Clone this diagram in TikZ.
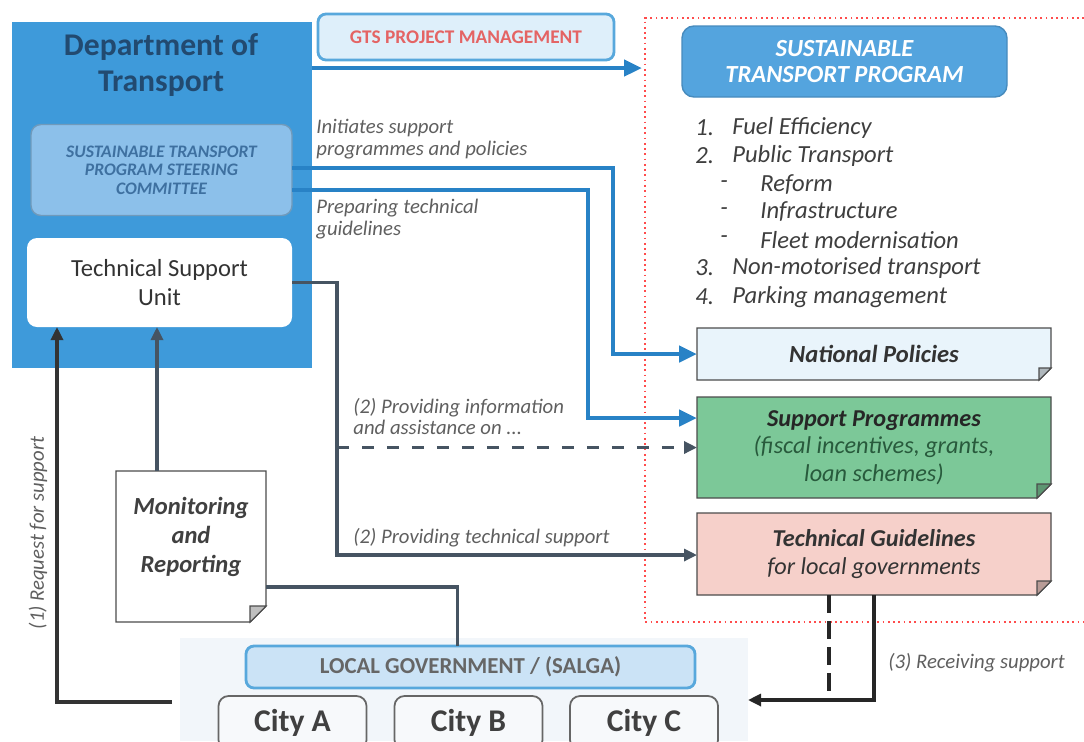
\documentclass[tikz,border=0pt]{standalone}
\usepackage{fontspec}
\setmainfont{Carlito}
\usetikzlibrary{positioning,calc,arrows.meta,backgrounds}

\definecolor{deptblue}{RGB}{62,154,218}
\definecolor{titleblue}{RGB}{34,74,112}
\definecolor{steerblue}{RGB}{140,192,234}
\definecolor{steertext}{RGB}{62,112,160}
\definecolor{progblue}{RGB}{84,164,222}
\definecolor{paleblue}{RGB}{222,239,250}
\definecolor{edgeblue}{RGB}{88,168,220}
\definecolor{arrowblue}{RGB}{40,130,198}
\definecolor{linegray}{RGB}{70,84,98}
\definecolor{textgray}{RGB}{95,95,95}
\definecolor{listgray}{RGB}{62,62,62}
\definecolor{gtsred}{RGB}{228,100,100}
\definecolor{npfill}{RGB}{233,244,251}
\definecolor{spfill}{RGB}{124,200,152}
\definecolor{sptext}{RGB}{40,90,60}
\definecolor{tgfill}{RGB}{246,208,202}
\definecolor{cityfill}{RGB}{247,249,251}
\definecolor{groundfill}{RGB}{242,246,250}

\tikzset{
  boxsize/.style 2 args={minimum width=#1*0.02cm, minimum height=#2*0.02cm,
    inner sep=0pt, outer sep=0pt},
  bluearr/.style={draw=arrowblue, line width=2.8pt,
    -{Triangle[length=0.36cm,width=0.32cm]}},
  grayarr/.style={draw=linegray, line width=1.8pt,
    -{Triangle[length=0.26cm,width=0.24cm]}},
  grayline/.style={draw=linegray, line width=1.8pt},
  dasharr/.style={draw=linegray, line width=2pt, dash pattern=on 0.24cm off 0.26cm,
    -{Triangle[length=0.26cm,width=0.24cm]}},
  lbl/.style={font=\fontsize{11.8}{12.2}\selectfont\itshape, text=textgray,
    inner sep=0pt, align=left},
  listtxt/.style={font=\fontsize{14}{16}\selectfont\itshape, text=listgray,
    anchor=west, inner sep=0pt},
  citybox/.style={boxsize={148}{54}, draw=black!60, line width=1pt, fill=cityfill,
    rounded corners=0.2cm, font=\fontsize{18}{20}\selectfont\bfseries,
    text=black!75},
}

% paper sheet with a folded corner, drawn behind the node
\newcommand{\docpaper}[3]{%
  \filldraw[fill=#2, draw=black!70, line width=0.8pt] (#1.south west) -- (#1.north west)
    -- (#1.north east) -- ($(#1.south east)+(0,-#3)$) -- ($(#1.south east)+(-#3,0)$) -- cycle;
  \filldraw[fill=#2!75!black, draw=black!70, line width=0.6pt] ($(#1.south east)+(0,-#3)$)
    -- ($(#1.south east)+(-#3,-#3)$) -- ($(#1.south east)+(-#3,0)$) -- cycle;
}

\begin{document}
\begin{tikzpicture}[x=0.02cm, y=-0.02cm]
  \useasboundingbox (0,0) rectangle (1084,741);
%%% Department of Transport
  \node[boxsize={300}{346}, fill=deptblue] (dot) at (162,195) {};
  \node[font=\fontsize{18}{20.5}\selectfont\bfseries, text=titleblue, align=center]
    (dottitle) at (161,65) {Department of\\Transport};
  \node[boxsize={261}{91}, fill=steerblue, draw=steerblue!80!black, line width=0.8pt,
    rounded corners=0.2cm, align=center, text=steertext,
    font=\fontsize{10}{10.5}\selectfont\bfseries\itshape] (steer) at (161.5,170)
    {SUSTAINABLE TRANSPORT\\PROGRAM STEERING\\COMMITTEE};
  \node[boxsize={265}{89}, fill=white, rounded corners=0.2cm, align=center,
    font=\fontsize{14}{17}\selectfont, text=black!80] (tsu) at (159.5,282.5)
    {Technical Support\\Unit};
%%% project management
  \node[boxsize={296}{46}, fill=paleblue, draw=edgeblue, line width=1.6pt,
    rounded corners=0.16cm, text=gtsred, font=\fontsize{11}{12}\selectfont\bfseries]
    (gts) at (466,37) {GTS PROJECT MANAGEMENT};
%%% programme frame
  \draw[red!70, dotted, line width=1pt] (1100,18) -- (645,18) -- (645,622) -- (1100,622);
  \node[boxsize={325}{71}, fill=progblue, draw=progblue!85!black, line width=0.8pt,
    rounded corners=0.24cm, text=white, align=center,
    font=\fontsize{14}{14.5}\selectfont\bfseries\itshape] (stp) at (844.5,61.5)
    {SUSTAINABLE\\TRANSPORT PROGRAM};
  \node[listtxt] (n1) at (695,128) {1.};
  \node[listtxt] (fuel) at (732,128) {Fuel Efficiency};
  \node[listtxt] (n2) at (695,156) {2.};
  \node[listtxt] (public) at (732,156) {Public Transport};
  \node[listtxt] (d1) at (720,185) {-};
  \node[listtxt] (reform) at (760,185) {Reform};
  \node[listtxt] (d2) at (720,212) {-};
  \node[listtxt] (infra) at (760,212) {Infrastructure};
  \node[listtxt] (d3) at (720,240) {-};
  \node[listtxt] (fleet) at (760,240) {Fleet modernisation};
  \node[listtxt] (n3) at (695,268) {3.};
  \node[listtxt] (nmt) at (732,268) {Non-motorised transport};
  \node[listtxt] (n4) at (695,297) {4.};
  \node[listtxt] (parking) at (732,297) {Parking management};
%%% outputs
  \node[boxsize={354}{52}, font=\fontsize{14}{16}\selectfont\bfseries\itshape,
    text=black!80] (np) at (874,354) {National Policies};
  \node[boxsize={354}{101}, align=center, font=\fontsize{13.8}{15.5}\selectfont\itshape,
    text=sptext] (sp) at (874,447.5)
    {\textbf{\color{black!85}Support Programmes}\\(fiscal incentives, grants,\\loan schemes)};
  \node[boxsize={354}{82}, align=center, font=\fontsize{13.8}{16}\selectfont\itshape,
    text=black!80] (tg) at (874,554)
    {\textbf{Technical Guidelines}\\for local governments};
%%% monitoring
  \node[boxsize={150}{151}] (mr) at (191,546.5) {};
  \node[font=\fontsize{14}{16.5}\selectfont\bfseries\itshape, text=black!75,
    align=center] (mrtext) at (191,537) {Monitoring\\and\\Reporting};
%%% local government
  \node[boxsize={449}{42}, fill=steerblue!45, draw=edgeblue, line width=1.6pt,
    rounded corners=0.16cm, text=black!60, font=\fontsize{13}{14}\selectfont\bfseries]
    (lg) at (470.5,667) {LOCAL GOVERNMENT / (SALGA)};
  \node[citybox] (citya) at (292.5,723) {City A};
  \node[citybox] (cityb) at (468.5,723) {City B};
  \node[citybox] (cityc) at (644,723) {City C};
  \begin{scope}[on background layer]
    \fill[groundfill] (180,638) rectangle (748,741);
    \docpaper{np}{npfill}{12}
    \docpaper{sp}{spfill}{14}
    \docpaper{tg}{tgfill}{14}
    \docpaper{mr}{white}{16}
  \end{scope}
%%% connectors
  \coordinate (stpin) at (642,68);
  \draw[bluearr] (dot.east |- stpin) -- (stpin);
  \draw[bluearr] ($(steer.east)+(0,-2)$) -- ++(321,0) |- (np.west);
  \draw[bluearr] ($(steer.east)+(0,20)$) -- ++(296,0) |- ($(sp.west)+(0,-29.5)$);
  \coordinate (tsubend) at ($(tsu.east)+(45,0)$);
  \draw[grayarr] (tsu.east) -- (tsubend) |- ($(tg.west)+(0,1)$);
  \draw[dasharr] (tsubend |- sp.west) -- (sp.west);
  \coordinate (reqend) at (172,702);
  \coordinate (reqcorner) at (57,702);
  \draw[grayarr, draw=black!80] (reqend) -- (reqcorner) -- (reqcorner |- tsu.south);
  \coordinate (mrtop) at ($(mr.north)+(-34,0)$);
  \draw[grayarr] (mrtop) -- (mrtop |- tsu.south);
  \draw[grayline] ($(mr.east)+(0,40.5)$) -| ($(lg.north)+(-13,0)$);
  \coordinate (recvtip) at (748,700);
  \draw[grayarr, draw=black!85] (tg.south) |- (recvtip);
  \draw[draw=black!85, line width=2pt, dash pattern=on 0.36cm off 0.16cm]
    ($(tg.south)+(-45,0)$) -- ++(0,105);
%%% labels
  \node[lbl, anchor=north west] (initlbl) at (316,119) {Initiates support\\programmes and policies};
  \node[lbl, anchor=north west] (preplbl) at (316,199) {Preparing technical\\guidelines};
  \node[lbl, anchor=north west] (infolbl) at (353,398)
    {(2) Providing information\\and assistance on ...};
  \node[lbl, anchor=west] (techlbl) at (353,538) {(2) Providing technical support};
  \node[lbl, anchor=west] (recvlbl) at (888,663) {(3) Receiving support};
  \node[lbl, rotate=90] (reqlbl) at (38,533) {(1) Request for support};
\end{tikzpicture}
\end{document}
